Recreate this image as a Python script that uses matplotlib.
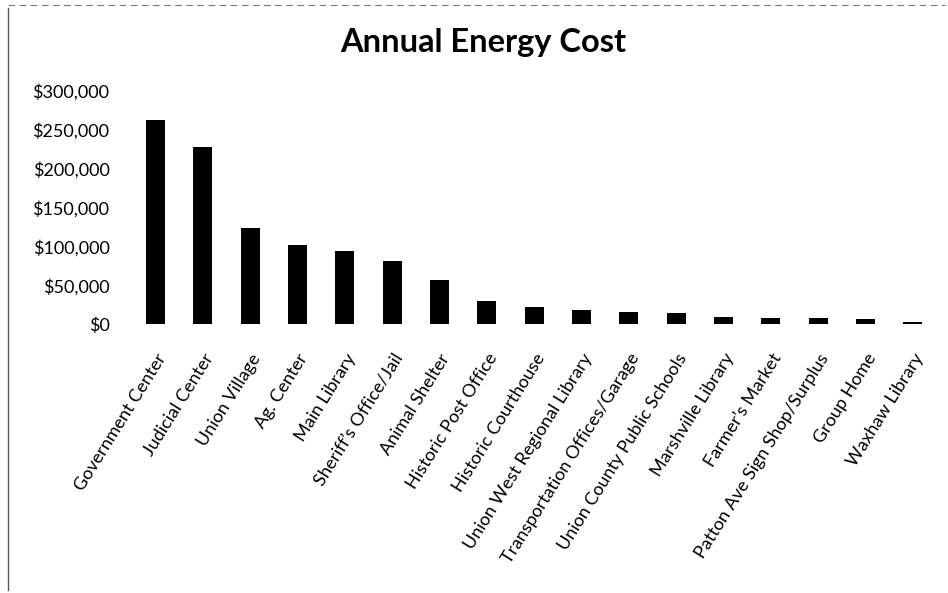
"""Annual energy cost by county facility — black bar chart."""

import matplotlib
matplotlib.use("Agg")
import matplotlib.pyplot as plt
from matplotlib.lines import Line2D
from matplotlib.ticker import FuncFormatter

FACILITIES = [
    "Government Center", "Judicial Center", "Union Village", "Ag. Center",
    "Main Library", "Sheriff’s Office/Jail", "Animal Shelter",
    "Historic Post Office", "Historic Courthouse", "Union West Regional Library",
    "Transportation Offices/Garage", "Union County Public Schools",
    "Marshville Library", "Farmer’s Market", "Patton Ave Sign Shop/Surplus",
    "Group Home", "Waxhaw Library",
]
COSTS = [262000, 228000, 124000, 102000, 94000, 82000, 57000,
         30000, 22000, 19000, 15500, 14000, 9000, 8500, 7700, 6800, 3400]
Y_TICKS = [0, 50000, 100000, 150000, 200000, 250000, 300000]

plt.rcParams.update({
    "font.family": ["Lato", "DejaVu Sans"],
    "text.color": "black",
    "xtick.color": "black", "ytick.color": "black",
})

fig = plt.figure(figsize=(9.48, 5.93), dpi=100)
ax = fig.add_axes([0.139, 0.453, 0.849, 0.394])

x = range(len(FACILITIES))
ax.bar(x, COSTS, width=0.4, color="black")

ax.set_xlim(-0.5, len(FACILITIES) - 0.5)
ax.set_ylim(0, 300000)
ax.set_yticks(Y_TICKS)
ax.yaxis.set_major_formatter(FuncFormatter(lambda v, _: f"${v:,.0f}"))
ax.set_xticks(list(x))
ax.set_xticklabels(FACILITIES, rotation=58, ha="right", rotation_mode="anchor")
ax.tick_params(axis="y", length=0, pad=16, labelsize=13)
ax.tick_params(axis="x", length=0, pad=19, labelsize=13)
for s in ax.spines.values():
    s.set_visible(False)

fig.text(0.510, 0.929, "Annual Energy Cost", ha="center", va="center",
         fontsize=23.5, fontweight="bold")

# chart frame remnants: left edge and dotted top edge
fig.add_artist(Line2D([8 / 948, 8 / 948], [3 / 593, 585 / 593], color="#555555", lw=1))
fig.add_artist(Line2D([8 / 948, 945 / 948], [588 / 593, 588 / 593], color="#777777",
                      lw=0.8, ls=(0, (6, 4))))

fig.savefig("out.png", dpi=100)
